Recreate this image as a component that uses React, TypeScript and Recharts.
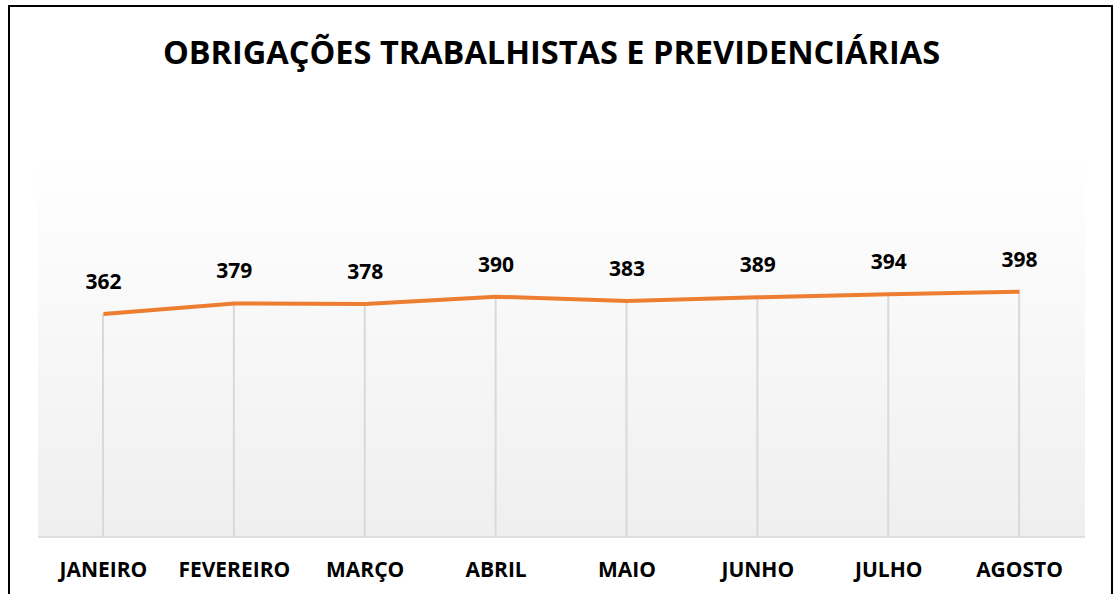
import React from "react";
import {
  ComposedChart,
  Line,
  Bar,
  XAxis,
  YAxis,
  CartesianGrid,
  LabelList,
} from "recharts";

const months = [
  "JANEIRO",
  "FEVEREIRO",
  "MARÇO",
  "ABRIL",
  "MAIO",
  "JUNHO",
  "JULHO",
  "AGOSTO",
];
const values = [362, 379, 378, 390, 383, 389, 394, 398];

const data = months.map((m, i) => ({ month: m, value: values[i] }));

const font = "'Open Sans', 'Noto Sans', sans-serif";

const App: React.FC = () => {
  return (
    <div
      style={{
        position: "absolute",
        left: 0,
        top: 0,
        width: 1119,
        height: 594,
        background: "#fff",
        overflow: "hidden",
        fontFamily: font,
      }}
    >
      {/* frame */}
      <div
        style={{
          position: "absolute",
          left: 8,
          top: 5,
          width: 1101,
          height: 620,
          border: "2px solid #000",
        }}
      />
      <div
        style={{
          position: "absolute",
          left: 0,
          top: 30,
          width: 1103,
          textAlign: "center",
          fontSize: 32.5,
          fontWeight: 700,
          color: "#000",
          lineHeight: "44px",
        }}
      >
        OBRIGAÇÕES TRABALHISTAS E PREVIDENCIÁRIAS
      </div>
      <div style={{ position: "absolute", left: 0, top: 0 }}>
        <ComposedChart
          width={1119}
          height={594}
          data={data}
          margin={{ top: 155, right: 34, left: 38, bottom: 27 }}
        >
          <defs>
            <linearGradient id="bg" x1="0" y1="0" x2="0" y2="1">
              <stop offset="0%" stopColor="#ffffff" />
              <stop offset="100%" stopColor="#efefef" />
            </linearGradient>
          </defs>
          <CartesianGrid
            horizontal={false}
            vertical={false}
            fill="url(#bg)"
            stroke="none"
          />
          <XAxis
            dataKey="month"
            axisLine={{ stroke: "#d9d9d9", strokeWidth: 1.5 }}
            tickLine={false}
            tickMargin={19}
            tick={{ fill: "#000", fontSize: 21, fontWeight: 700, fontFamily: font }}
            interval={0}
          />
          <YAxis hide domain={[0, 620]} />
          <Bar
            dataKey="value"
            barSize={2}
            fill="#d9d9d9"
            isAnimationActive={false}
          />
          <Line
            type="linear"
            dataKey="value"
            stroke="#ED7D31"
            strokeWidth={4}
            dot={false}
            activeDot={false}
            isAnimationActive={false}
          >
            <LabelList
              dataKey="value"
              position="top"
              offset={25}
              style={{ fill: "#000", fontSize: 21, fontWeight: 700, fontFamily: font }}
            />
          </Line>
        </ComposedChart>
      </div>
    </div>
  );
};

export default App;
